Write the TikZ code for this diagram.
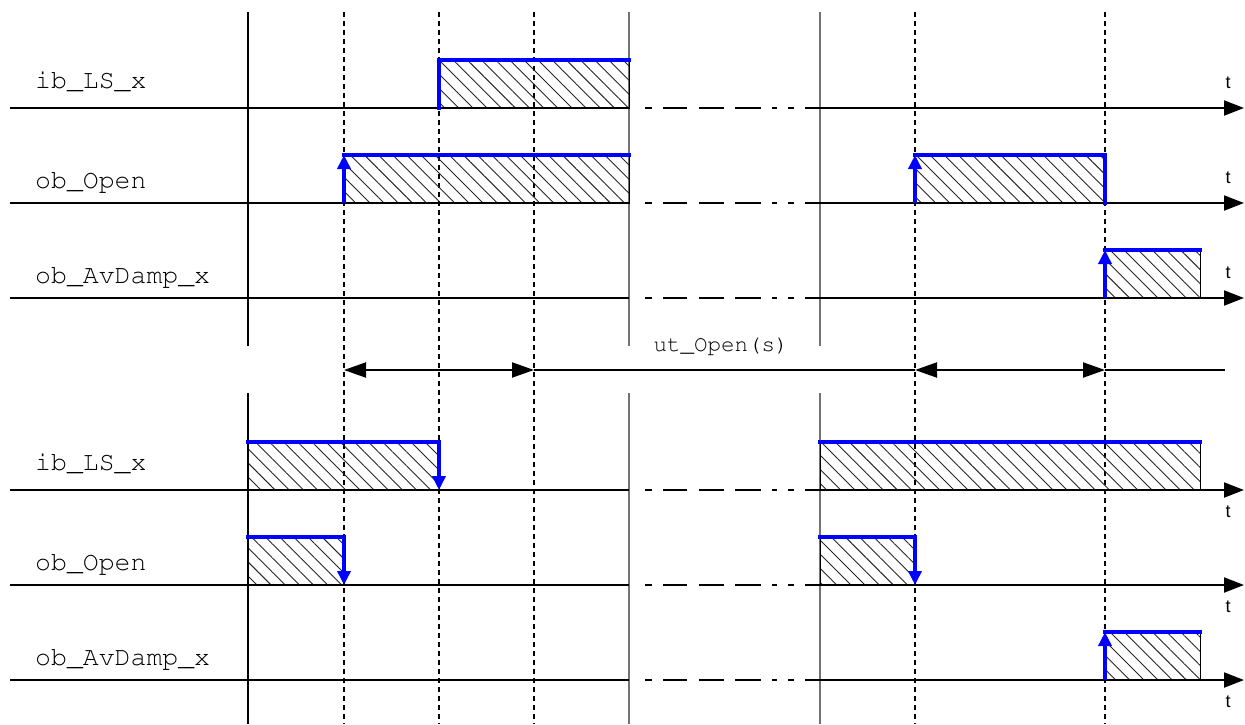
\documentclass[tikz,border=0pt]{standalone}
\usepackage[T1,TU]{fontenc}
\usepackage{fontspec}
\setmainfont{Liberation Sans}
\usetikzlibrary{arrows.meta,patterns.meta}

\newcommand{\codefont}{\fontencoding{T1}\fontfamily{pcr}\selectfont}

\begin{document}
\begin{tikzpicture}[x=1pt, y=-1pt,
        axis/.style  ={line width=2pt},
        brk/.style   ={line width=2pt, dash pattern=on 0pt off 16pt on 7pt off 11pt on 24pt off 12pt on 25pt off 11pt on 26pt off 11pt on 5pt off 11pt on 6pt off 11pt},
        guide/.style ={line width=1.2pt, dash pattern=on 5pt off 4pt},
        sep/.style   ={line width=1.7pt, black!55},
        frame/.style ={line width=2.3pt},
        hatch/.style ={draw=black, line width=1pt, pattern={Lines[angle=-45, distance=10pt, line width=0.9pt]}, pattern color=black!85},
        lvl/.style   ={blue, line width=4.5pt, line cap=rect},
        edge/.style  ={blue, line width=4.5pt, -{Triangle[length=14pt, width=13pt]}},
        dim/.style   ={line width=2pt},
        lbl/.style   ={font=\codefont\fontsize{26.5}{28}\selectfont, anchor=base west, inner sep=0pt},
        tlbl/.style  ={font=\fontsize{18}{20}\selectfont, inner sep=0pt}]
    \useasboundingbox (0,0) rectangle (1245,724);

    %--- Time marks ---
    \foreach \x in {344,439,534,915,1105}
        \draw[guide] (\x,12) -- (\x,724);
    \foreach \x in {629,820} {
        \draw[sep] (\x,12) -- (\x,346);
        \draw[sep] (\x,393) -- (\x,724);
    }
    \draw[frame] (248,12) -- (248,346);
    \draw[frame] (248,393) -- (248,724);

    %--- Active levels ---
    \foreach \xa/\ya/\xb/\yb in {439/60/629/108, 344/155/629/203, 915/155/1105/203,
            1105/250/1200/298, 248/442/439/490, 820/442/1200/490,
            248/537/344/585, 820/537/915/585, 1105/632/1200/680}
        \draw[hatch] (\xa,\ya) rectangle (\xb,\yb);

    %--- Time axes ---
    \foreach \y [count=\i] in {108,203,298,490,585,680} {
        \draw[axis] (10,\y) -- (629,\y);
        \draw[brk] (629,\y) -- (805,\y);
        \draw[axis, -{Triangle[length=20pt, width=15pt]}] (805,\y) -- (1244,\y);
    }
    \foreach \y [count=\i] in {83,178,273,512,607,702}
        \node[tlbl] (t\i) at (1228,\y) {t};

    %--- Signal names ---
    \node[lbl] (lsA)   at (35,88)  {ib\_LS\_x};
    \node[lbl] (openA) at (35,188) {ob\_Open};
    \node[lbl] (dampA) at (35,283) {ob\_AvDamp\_x};
    \node[lbl] (lsB)   at (35,470) {ib\_LS\_x};
    \node[lbl] (openB) at (35,570) {ob\_Open};
    \node[lbl] (dampB) at (35,665) {ob\_AvDamp\_x};

    %--- Edges, upper case ---
    \draw[lvl] (439,108) -- (439,60) -- (629,60);
    \draw[edge] (344,203) -- (344,155);
    \draw[lvl] (344,155) -- (629,155);
    \draw[edge] (915,203) -- (915,155);
    \draw[lvl] (915,155) -- (1105,155) -- (1105,203);
    \draw[edge] (1105,298) -- (1105,250);
    \draw[lvl] (1105,250) -- (1200,250);

    %--- Edges, lower case ---
    \draw[lvl] (248,442) -- (439,442);
    \draw[edge] (439,442) -- (439,490);
    \draw[lvl] (820,442) -- (1200,442);
    \draw[lvl] (248,537) -- (344,537);
    \draw[edge] (344,537) -- (344,585);
    \draw[lvl] (820,537) -- (915,537);
    \draw[edge] (915,537) -- (915,585);
    \draw[edge] (1105,680) -- (1105,632);
    \draw[lvl] (1105,632) -- (1200,632);

    %--- Open time ---
    \node[font=\codefont\fontsize{22.5}{24}\selectfont, inner sep=0pt] (utopen) at (721,346) {ut\_Open(s)};
    \coordinate (d1) at (344,370);
    \coordinate (d2) at (534,370);
    \coordinate (d3) at (915,370);
    \coordinate (d4) at (1105,370);
    \coordinate (d5) at (1225,370);
    \draw[dim, {Triangle[length=22pt, width=15pt]}-{Triangle[length=22pt, width=15pt]}] (d1) -- (d2);
    \draw[dim] (d2) -- (d3);
    \draw[dim, {Triangle[length=22pt, width=15pt]}-{Triangle[length=22pt, width=15pt]}] (d3) -- (d4);
    \draw[dim] (d4) -- (d5);

\end{tikzpicture}
\end{document}
